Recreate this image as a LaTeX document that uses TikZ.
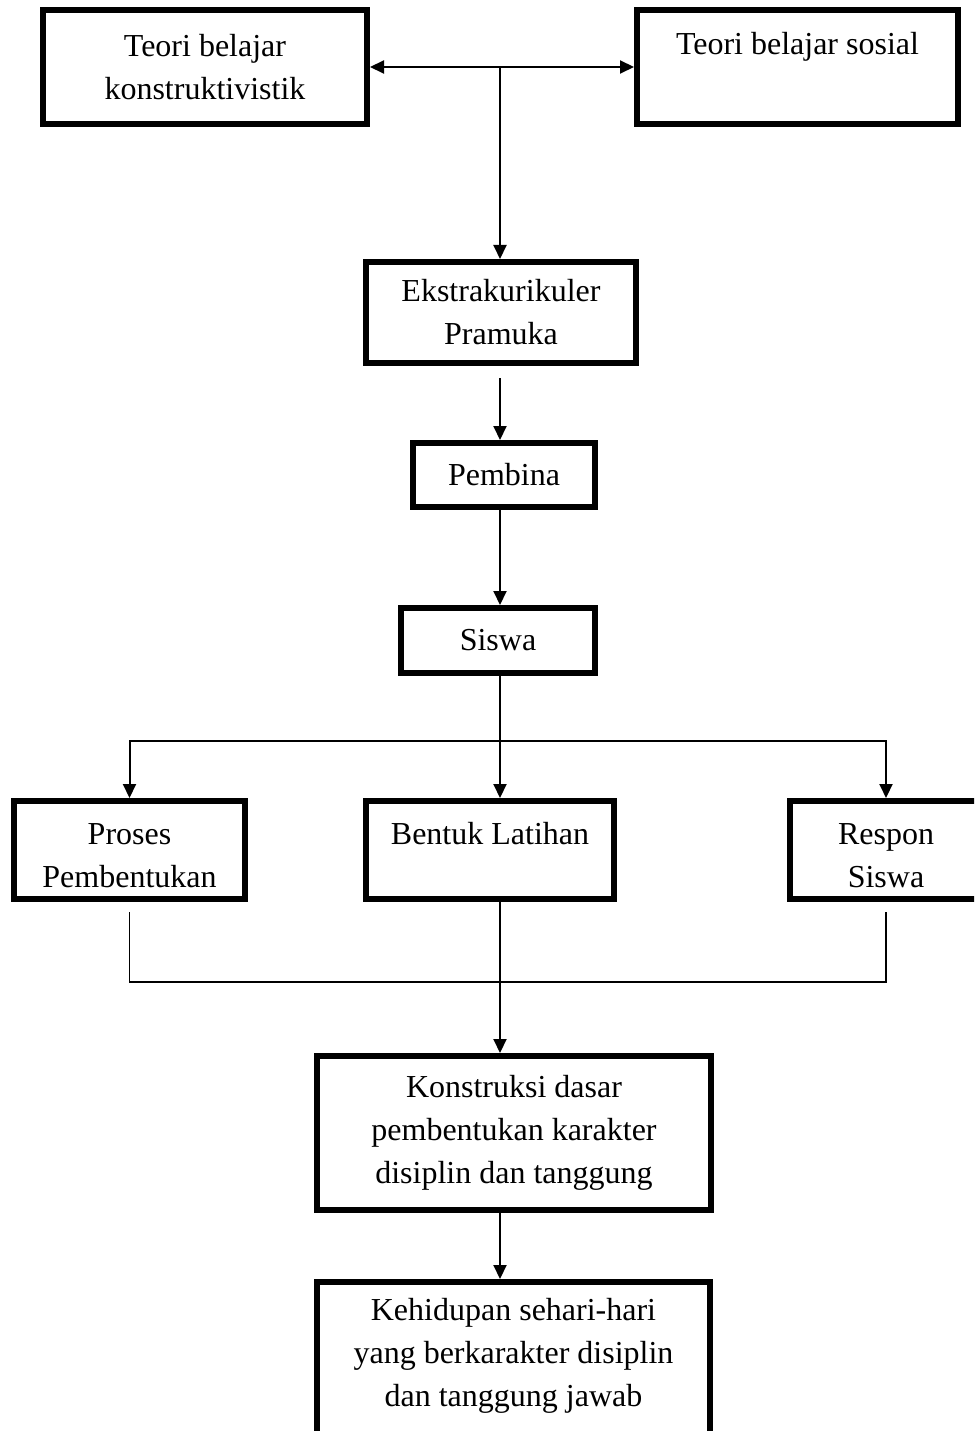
\documentclass[tikz,border=0pt]{standalone}
\usepackage{fontspec}
\setmainfont{Liberation Serif}
\usetikzlibrary{arrows.meta,calc}
\begin{document}
\begin{tikzpicture}[x=1pt,y=-1pt,
  box/.style={draw=black,line width=6pt,inner sep=0pt,align=center,
    font=\fontsize{32}{43}\selectfont},
  conn/.style={line width=2pt,-{Triangle[length=14pt,width=13pt]}},
  plain/.style={line width=1.5pt}]
\fill[white] (0,0) rectangle (974,1431);
\clip (0,0) rectangle (974,1431);
\node[box,minimum width=324pt,minimum height=114pt] (tkon) at (205,67) {Teori belajar\\konstruktivistik};
\node[box,minimum width=321pt,minimum height=114pt] (tsos) at (797.5,67) {Teori belajar sosial\\[-8pt]\strut};
\node[box,minimum width=270pt,minimum height=101pt] (ekstra) at (501,312.5) {Ekstrakurikuler\\Pramuka};
\node[box,minimum width=182pt,minimum height=64pt] (pembina) at (504,475) {Pembina};
\node[box,minimum width=194pt,minimum height=65pt] (siswa) at (498,640.5) {Siswa};
\node[box,minimum width=231pt,minimum height=98pt] (proses) at (129.5,850) {\rule{0pt}{32pt}Proses\\Pembentukan};
\node[box,minimum width=248pt,minimum height=98pt] (bentuk) at (490,850) {Bentuk Latihan\\[-22pt]\strut};
\node[box,minimum width=192pt,minimum height=98pt] (respon) at (886,850) {\rule{0pt}{32pt}Respon\\Siswa};
\node[box,minimum width=394pt,minimum height=154pt] (konstr) at (514,1133) {Konstruksi dasar\\pembentukan karakter\\disiplin dan tanggung};
\node[box,minimum width=393pt,minimum height=197pt] (kehid) at (513.5,1380.5) {Kehidupan sehari-hari\\yang berkarakter disiplin\\dan tanggung jawab\\\strut};
\coordinate (spine) at (500,0);
\coordinate (j1) at (500,67);
\coordinate (b1) at (500,741);
\coordinate (b2) at (500,982);
\draw[line width=2pt,{Triangle[length=14pt,width=13pt]}-{Triangle[length=14pt,width=13pt]}] (tkon.east) -- (tsos.west);
\draw[conn] (j1) -- (ekstra.north -| spine);
\draw[conn] ([yshift=-12pt]ekstra.south -| spine) -- (pembina.north -| spine);
\draw[conn] (pembina.south -| spine) -- (siswa.north -| spine);
\draw[conn] (siswa.south -| spine) -- (bentuk.north -| spine);
\draw[conn] (b1) -| (proses.north);
\draw[conn] (b1) -| (respon.north);
\draw[plain] ([yshift=-10pt]proses.south) |- (b2) -| ([yshift=-10pt]respon.south);
\draw[conn] (bentuk.south -| spine) -- (konstr.north -| spine);
\draw[conn] (konstr.south -| spine) -- (kehid.north -| spine);
\end{tikzpicture}
\end{document}
